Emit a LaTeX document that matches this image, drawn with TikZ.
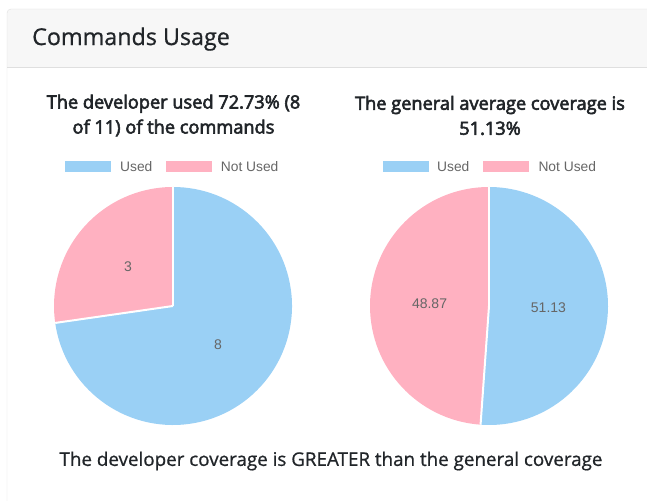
\documentclass[tikz,border=0pt]{standalone}
\usepackage{fontspec}
\setmainfont{Open Sans}
\newfontfamily\chartfont{Liberation Sans}
\newfontfamily\semifont[FakeBold=3.2]{Open Sans}
\newfontfamily\mediumfont[FakeBold=0.8]{Open Sans}
\definecolor{usedblue}{RGB}{154,208,245}
\definecolor{notpink}{RGB}{255,177,193}
\definecolor{cardline}{RGB}{223,223,223}
\definecolor{headfill}{RGB}{247,247,247}
\definecolor{inkdark}{RGB}{33,37,41}
\definecolor{inkgrey}{RGB}{102,102,102}
\tikzset{
  legbox/.style={rectangle,inner sep=0pt,minimum width=46pt,minimum height=11pt},
  legtext/.style={anchor=west,inner sep=0pt,text=inkgrey,font=\chartfont\fontsize{13.8}{16}\selectfont},
  slicelab/.style={inner sep=0pt,text=inkgrey,font=\chartfont\fontsize{14}{16}\selectfont},
  charttitle/.style={align=center,inner sep=0pt,text=inkdark,font=\semifont\fontsize{18.2}{25}\selectfont},
  slicegap/.style={white,line width=2pt}
}

\begin{document}
\begin{tikzpicture}[x=1pt,y=1pt]
    \useasboundingbox (0,0) rectangle (647,500);
    \clip (0,0) rectangle (647,500);
    % card and header
    \fill[headfill] (7,433) -- (7,487) arc[start angle=180,end angle=90,radius=4] -- (660,491) -- (660,433) -- cycle;
    \draw[cardline] (7,-10) -- (7,487) arc[start angle=180,end angle=90,radius=4] -- (660,491);
    \draw[cardline] (7,433) -- (660,433);
    \node[anchor=west,inner sep=0pt,text=inkdark,font=\mediumfont\fontsize{23.3}{26}\selectfont] (head) at (32,461) {Commands Usage};
    % left chart
    \node[charttitle] (t1) at (173.5,384.5) {The developer used 72.73\% (8\\of 11) of the commands};
    \node[legbox,fill=usedblue] (lu1) at (88,333.5) {};
    \node[legtext] (tu1) at (120,333.5) {Used};
    \node[legbox,fill=notpink] (ln1) at (189,333.5) {};
    \node[legtext] (tn1) at (220.7,333.5) {Not Used};
    \coordinate (c1) at (173,194);
    \fill[usedblue] (c1) -- ++(188.18:119) arc[start angle=188.18,end angle=450,radius=119] -- cycle;
    \fill[notpink] (c1) -- ++(90:119) arc[start angle=90,end angle=188.18,radius=119] -- cycle;
    \draw[slicegap] (c1) -- ++(90:119);
    \draw[slicegap] (c1) -- ++(188.18:119);
    \node[slicelab] (v3) at ([shift={(139.09:59.5)}]c1) {3};
    \node[slicelab] (v8) at ([shift={(319.09:59.5)}]c1) {8};
    % right chart
    \node[charttitle] (t2) at (490,384.5) {The general average coverage is\\51.13\%};
    \node[legbox,fill=usedblue] (lu2) at (405.5,333.5) {};
    \node[legtext] (tu2) at (437,333.5) {Used};
    \node[legbox,fill=notpink] (ln2) at (506,333.5) {};
    \node[legtext] (tn2) at (538.3,333.5) {Not Used};
    \coordinate (c2) at (489,194);
    \fill[usedblue] (c2) -- ++(-94.07:119) arc[start angle=-94.07,end angle=90,radius=119] -- cycle;
    \fill[notpink] (c2) -- ++(90:119) arc[start angle=90,end angle=265.93,radius=119] -- cycle;
    \draw[slicegap] (c2) -- ++(90:119);
    \draw[slicegap] (c2) -- ++(265.93:119);
    \node[slicelab] (v5113) at ([shift={(-2.03:59.5)}]c2) {51.13};
    \node[slicelab] (v4887) at ([shift={(177.97:59.5)}]c2) {48.87};
    % verdict
    \node[inner sep=0pt,text=inkdark,font=\mediumfont\fontsize{18.8}{22}\selectfont] (verdict) at (331,39) {The developer coverage is GREATER than the general coverage};
\end{tikzpicture}
\end{document}
